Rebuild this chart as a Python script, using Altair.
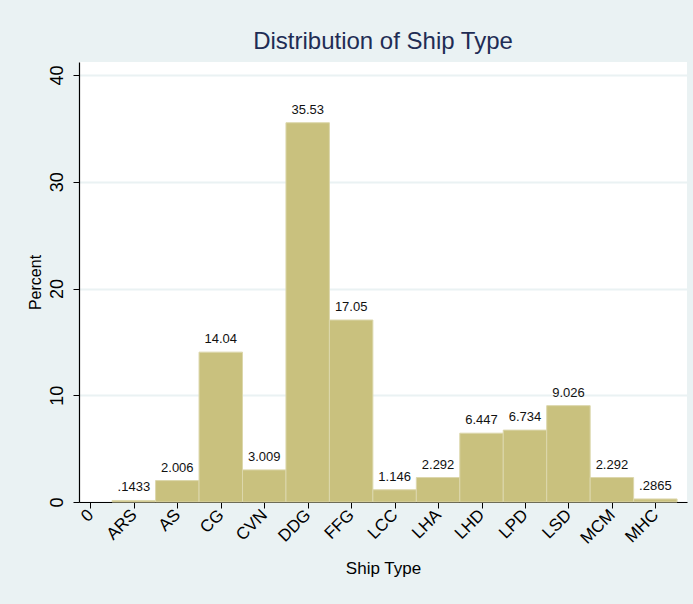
import altair as alt
import pandas as pd

# Ship type categories (coded 1..13; code 0 has no observations)
ship_types = ["ARS", "AS", "CG", "CVN", "DDG", "FFG", "LCC", "LHA",
              "LHD", "LPD", "LSD", "MCM", "MHC"]
percents = [0.1433, 2.006, 14.04, 3.009, 35.53, 17.05, 1.146, 2.292,
            6.447, 6.734, 9.026, 2.292, 0.2865]
bar_labels = [".1433", "2.006", "14.04", "3.009", "35.53", "17.05", "1.146",
              "2.292", "6.447", "6.734", "9.026", "2.292", ".2865"]
tick_labels = ["0"] + ship_types
y_ticks = [0, 10, 20, 30, 40]

codes = list(range(1, len(ship_types) + 1))
df = pd.DataFrame({
    "code": codes,
    "lo": [c - 0.5 for c in codes],
    "hi": [c + 0.5 for c in codes],
    "percent": percents,
    "label": bar_labels,
    "type": ship_types,
})

BG = "#EAF2F3"
BAR = "#C9C17E"
BAR_EDGE = "#DCD7AC"
SANS = "Liberation Sans, Arial"

label_expr = "[" + ",".join("'" + t + "'" for t in tick_labels) + "][datum.value]"

x_scale = alt.Scale(domain=[-0.262, 13.728], nice=False, zero=False)
y_scale = alt.Scale(domain=[0, 41.22], nice=False)

x_axis = alt.Axis(
    title="Ship Type", values=list(range(len(tick_labels))), labelExpr=label_expr,
    labelAngle=-45, labelAlign="right", labelBaseline="middle",
    labelFont=SANS, labelFontSize=17, labelColor="#000000", labelPadding=4,
    tickSize=6, tickColor="#000000", domainColor="#000000", domainWidth=1.2,
    grid=False, titleFont=SANS, titleFontSize=17, titleFontWeight="normal",
    titleColor="#000000", titlePadding=14, labelOverlap=False,
)
y_axis = alt.Axis(
    title="Percent", values=y_ticks, labelAngle=270, labelAlign="center",
    labelBaseline="bottom", labelFont=SANS, labelFontSize=18,
    labelColor="#000000", labelPadding=7, tickSize=6, tickColor="#000000",
    domainColor="#000000", domainWidth=1.2, grid=True, gridColor=BG,
    gridWidth=2, titleFont=SANS, titleFontSize=16, titleFontWeight="normal",
    titleColor="#000000", titlePadding=5,
)

bars = alt.Chart(df).mark_rect(
    fill=BAR, stroke=BAR_EDGE, strokeWidth=1
).encode(
    x=alt.X("lo:Q", scale=x_scale, axis=x_axis),
    x2="hi:Q",
    y=alt.Y("percent:Q", scale=y_scale, axis=y_axis),
    y2=alt.datum(0),
)

labels = alt.Chart(df).mark_text(
    baseline="bottom", dy=-6, font=SANS, fontSize=13, color="#111111"
).encode(
    x=alt.X("code:Q", scale=x_scale),
    y=alt.Y("percent:Q", scale=y_scale),
    text="label:N",
)

chart = (bars + labels).properties(
    width=608,
    height=440,
    background=BG,
    padding={"left": 79, "top": 62, "right": 6, "bottom": 102},
    autosize=alt.AutoSizeParams(type="none"),
    title=alt.TitleParams(
        "Distribution of Ship Type", font=SANS, fontSize=24,
        fontWeight="normal", color="#1F2D55", anchor="middle", offset=8,
    ),
).configure_view(fill="#FFFFFF", stroke=None)

chart.save("out.html", embed_options={"renderer": "svg", "actions": False})
